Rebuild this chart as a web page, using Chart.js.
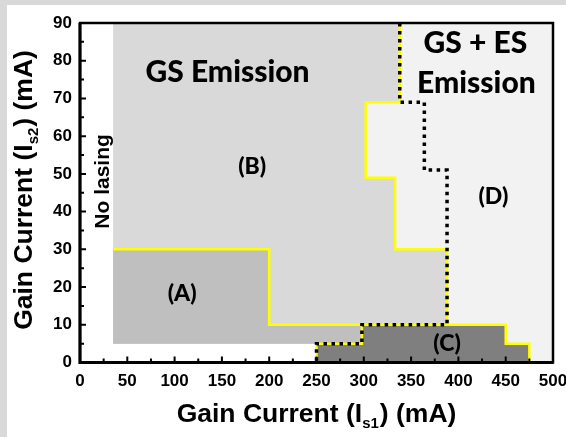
<!DOCTYPE html>
<html>
<head>
<meta charset="utf-8">
<script src="https://cdn.jsdelivr.net/npm/chart.js@4.4.0/dist/chart.umd.min.js"></script>
<style>
  html, body { margin: 0; padding: 0; background: #fff; }
  #wrap { position: relative; width: 566px; height: 437px; background: #d9d9d9; overflow: hidden; }
  #box { position: absolute; left: 7px; top: 5px; width: 559px; height: 432px; background: #fff; }
</style>
</head>
<body>
<div id="wrap"><div id="box"><canvas id="map" width="559" height="432"></canvas></div></div>
<script>
// Lasing regime map: gain current Is1 (x, mA) vs Is2 (y, mA)
const xTicks = [0, 50, 100, 150, 200, 250, 300, 350, 400, 450, 500];
const yTicks = [0, 10, 20, 30, 40, 50, 60, 70, 80, 90];

// region outlines as [Is1, Is2] corners
const regionD = [[35, 5], [35, 90], [500, 90], [500, 0], [250, 0], [250, 5]];
const regionB = [[35, 5], [35, 90], [338, 90], [338, 69], [302, 69], [302, 49], [333, 49], [333, 30], [388, 30], [388, 5]];
const regionA = [[35, 5], [35, 30], [200, 30], [200, 10], [300, 10], [300, 5]];
const regionC = [[250, 0], [250, 5], [298, 5], [298, 10], [450, 10], [450, 5], [475, 5], [475, 0]];

// yellow boundary of GS emission
const edgeLow = [[35, 30], [200, 30], [200, 10], [450, 10], [450, 5], [475, 5], [475, 0]];
const edgeHigh = [[338, 90], [338, 69], [302, 69], [302, 49], [333, 49], [333, 30], [388, 30], [388, 10]];
const edgeStep = [[250, 0], [250, 5], [298, 5], [298, 10]];
// dotted onset of ES emission
const esOnset = [[338, 90], [338, 69], [364, 69], [364, 51], [388, 51], [388, 10], [298, 10], [298, 5], [250, 5], [250, 0]];

const notes = [
  { text: 'GS Emission', x: 156, y: 77, font: '900 30px Lato' },
  { text: 'GS + ES', x: 418, y: 84.5, font: '900 30px Lato' },
  { text: 'Emission', x: 419, y: 74, font: '900 30px Lato' },
  { text: '(B)', x: 182, y: 52, font: '900 23px Lato' },
  { text: '(A)', x: 108, y: 18.2, font: '900 23px Lato' },
  { text: '(C)', x: 388, y: 5, font: '900 23px Lato' },
  { text: '(D)', x: 437, y: 44, font: '900 23px Lato' },
  { text: 'No lasing', x: 24, y: 48, font: 'bold 21px "Liberation Sans"', rotate: true }
];

const pts = arr => arr.map(p => ({ x: p[0], y: p[1] }));

function area(points, color, order) {
  return { data: pts(points), backgroundColor: color, borderWidth: 0, borderColor: 'rgba(0,0,0,0)', fill: 'shape', order: order };
}
function edge(points, color, width, dash, order) {
  return { data: pts(points), borderColor: color, borderWidth: width, borderDash: dash, fill: false, order: order, borderCapStyle: 'butt', borderJoinStyle: 'miter' };
}

const tickFont = { family: 'Liberation Sans', weight: 'bold', size: 17 };

// frame, inward ticks, axis titles and region labels
const decor = {
  id: 'decor',
  afterDraw(chart) {
    const { ctx, chartArea: a, scales: { x, y } } = chart;
    ctx.save();
    ctx.strokeStyle = '#000';
    ctx.lineWidth = 2.5;
    ctx.strokeRect(a.left, a.top, a.right - a.left, a.bottom - a.top);
    ctx.lineWidth = 3;
    ctx.beginPath();
    ctx.moveTo(a.left, a.top); ctx.lineTo(a.left, a.bottom); ctx.lineTo(a.right, a.bottom);
    ctx.stroke();

    ctx.lineWidth = 2;
    ctx.beginPath();
    for (let v = 0; v <= 500; v += 25) {
      const px = x.getPixelForValue(v);
      const len = v % 50 === 0 ? 6 : 4;
      ctx.moveTo(px, a.bottom); ctx.lineTo(px, a.bottom - len);
    }
    for (let v = 0; v <= 90; v += 5) {
      const py = y.getPixelForValue(v);
      const len = v % 10 === 0 ? 6 : 4;
      ctx.moveTo(a.left, py); ctx.lineTo(a.left + len, py);
    }
    ctx.stroke();

    ctx.fillStyle = '#000';
    ctx.textBaseline = 'middle';
    ctx.textAlign = 'center';
    notes.forEach(n => {
      ctx.font = n.font;
      const px = x.getPixelForValue(n.x), py = y.getPixelForValue(n.y);
      if (n.rotate) {
        ctx.save(); ctx.translate(px, py); ctx.rotate(-Math.PI / 2);
        ctx.fillText(n.text, 0, 0); ctx.restore();
      } else {
        ctx.fillText(n.text, px, py);
      }
    });

    // axis titles with subscripts
    const drawTitle = (sub, cx, base) => {
      const main = 'bold 26.5px "Liberation Sans"', small = 'bold 15px "Liberation Sans"';
      const p1 = 'Gain Current (I', p3 = ') (mA)';
      ctx.font = main; const w1 = ctx.measureText(p1).width, w3 = ctx.measureText(p3).width;
      ctx.font = small; const w2 = ctx.measureText(sub).width + 1;
      let left = cx - (w1 + w2 + w3) / 2;
      ctx.textAlign = 'left'; ctx.textBaseline = 'alphabetic';
      ctx.font = main; ctx.fillText(p1, left, base);
      ctx.font = small; ctx.fillText(sub, left + w1, base + 6);
      ctx.font = main; ctx.fillText(p3, left + w1 + w2, base);
    };
    drawTitle('s1', (a.left + a.right) / 2, 417);
    ctx.save();
    ctx.translate(25, 185);
    ctx.rotate(-Math.PI / 2);
    drawTitle('s2', 0, 0);
    ctx.restore();
    ctx.restore();
  }
};

new Chart(document.getElementById('map'), {
  type: 'line',
  data: {
    datasets: [
      area(regionD, '#f2f2f2', 9),
      area(regionB, '#d9d9d9', 8),
      area(regionA, '#bfbfbf', 7),
      area(regionC, '#7f7f7f', 6),
      edge(edgeLow, '#ffff00', 2.5, [], 5),
      edge(edgeHigh, '#ffff00', 2.5, [], 4),
      edge(edgeStep, '#ffff00', 2.5, [], 3),
      edge(esOnset, '#000000', 3.5, [3.5, 4.5], 2)
    ]
  },
  options: {
    responsive: false,
    animation: false,
    layout: { padding: { top: 18, right: 13, left: 0, bottom: 0 } },
    elements: { point: { radius: 0 }, line: { tension: 0 } },
    plugins: { legend: { display: false }, tooltip: { enabled: false } },
    scales: {
      x: {
        type: 'linear', min: 0, max: 500,
        afterBuildTicks: s => { s.ticks = xTicks.map(v => ({ value: v })); },
        afterFit: s => { s.height = 74.5; s.paddingLeft = 0; s.paddingRight = 0; },
        grid: { display: false, drawTicks: false },
        border: { display: false },
        ticks: { font: tickFont, color: '#000', padding: 9, maxRotation: 0 }
      },
      y: {
        type: 'linear', min: 0, max: 90,
        afterBuildTicks: s => { s.ticks = yTicks.map(v => ({ value: v })); },
        afterFit: s => { s.width = 73; s.paddingTop = 0; s.paddingBottom = 0; },
        grid: { display: false, drawTicks: false },
        border: { display: false },
        ticks: { font: tickFont, color: '#000', padding: 8 }
      }
    }
  },
  plugins: [decor]
});
</script>
</body>
</html>
